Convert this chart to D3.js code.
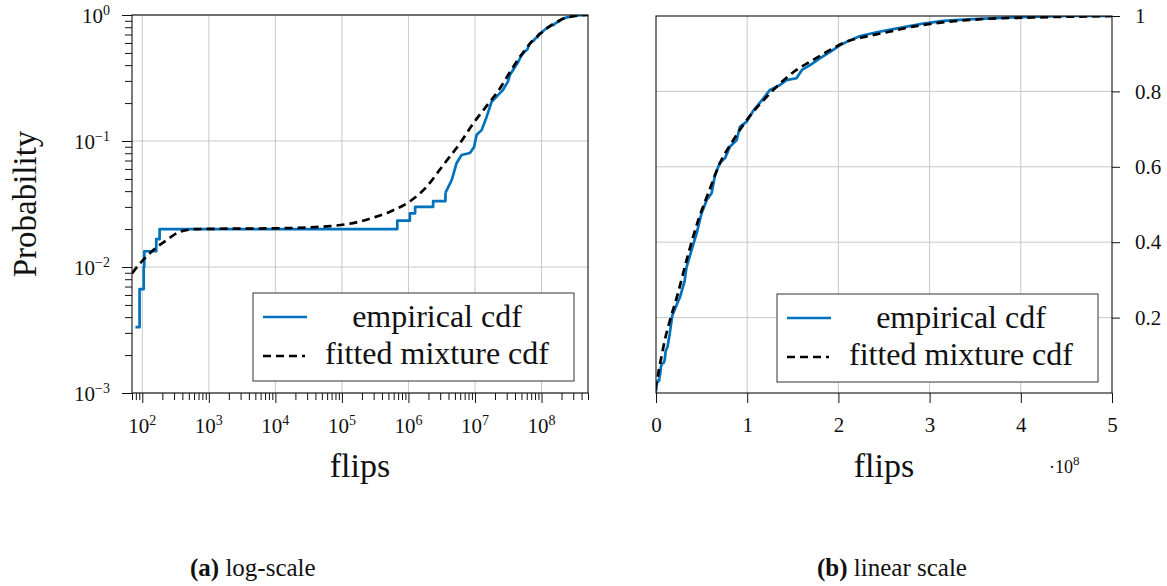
<!DOCTYPE html>
<html lang="en">
<head>
  <meta charset="UTF-8" />
  <title>Empirical vs fitted mixture cdf</title>
  <style>
    body { margin: 0; background: #fff; }
    svg text { font-family: "Liberation Serif", "DejaVu Serif", serif; fill: #111; }
    .grid line { stroke: #c8c8c8; stroke-width: 1px; }
    .frame { fill: none; stroke: #111; stroke-width: 1.1px; }
    .emp-line { fill: none; stroke: #0072bd; stroke-width: 2.7px; stroke-linejoin: round; }
    .fit-line { fill: none; stroke: #000; stroke-width: 2.7px; stroke-dasharray: 8, 5; }
    .axis path { display: none; }
    .axis line { stroke: #111; }
    .legend-box { fill: #fff; stroke: #333; stroke-width: 1px; }
  </style>
</head>
<body>
  <script src="https://cdnjs.cloudflare.com/ajax/libs/d3/7.8.5/d3.min.js"></script>
  <script>
    // empirical cdf (300 runs): knots, discrete steps first, then the dense part
    var empFlips = [79, 91, 105, 107, 162, 182, 6.8e5, 1.05e6, 1.26e6, 2.35e6,
      3.6e6, 4.47e6, 5.3e6, 6.3e6, 8.4e6, 9.7e6,
      1.06e7, 1.26e7, 1.5e7, 1.78e7, 2.37e7, 2.63e7, 3.13e7, 3.35e7, 3.9e7,
      4.46e7, 5.0e7, 5.56e7, 6.1e7, 6.47e7, 7.0e7, 7.57e7, 8.1e7, 8.85e7, 9.2e7, 9.95e7,
      1.07e8, 1.18e8, 1.25e8, 1.36e8, 1.43e8, 1.54e8, 1.6e8, 1.69e8, 1.8e8, 1.91e8,
      2.02e8, 2.13e8, 2.24e8, 2.42e8, 2.6e8, 2.78e8, 2.93e8,
      3.15e8, 3.41e8, 3.99e8, 4.5e8, 5e8];
    var empProb = [0.00333, 0.00667, 0.01, 0.01333, 0.01667, 0.02, 0.02333, 0.02667, 0.03, 0.03333,
      0.0387, 0.049, 0.0669, 0.0774, 0.0803, 0.0896,
      0.112, 0.122, 0.156, 0.205, 0.24, 0.254, 0.296, 0.334, 0.379,
      0.424, 0.477, 0.512, 0.53, 0.578, 0.61, 0.623, 0.653, 0.671, 0.706, 0.72,
      0.75, 0.782, 0.804, 0.817, 0.83, 0.835, 0.857, 0.87, 0.888, 0.905,
      0.923, 0.936, 0.947, 0.957, 0.965, 0.973, 0.98,
      0.987, 0.991, 0.997, 1.0, 1.0];
    var nSteps = 11; // first knots drawn as visible steps

    // fitted mixture cdf
    var fitFlips = [70, 100, 148, 234, 371, 660, 1.17e4, 6.6e4, 1.65e5, 3.3e5, 5.3e5,
      1.12e6, 1.88e6, 3.34e6, 5.96e6, 9.44e6, 1.5e7, 2.38e7, 3.36e7, 4.64e7, 5.73e7,
      7.0e7, 8.48e7, 9.95e7, 1.18e8, 1.36e8, 1.54e8, 1.72e8, 1.91e8, 2.09e8, 2.31e8,
      2.53e8, 2.82e8, 3.04e8, 3.59e8, 4.13e8, 5e8];
    var fitProb = [0.0089, 0.0112, 0.0137, 0.0164, 0.0191, 0.02, 0.0203, 0.0211, 0.0226, 0.0251, 0.0275,
      0.034, 0.0434, 0.0645, 0.096, 0.138, 0.19, 0.262, 0.353, 0.459, 0.53,
      0.609, 0.671, 0.724, 0.777, 0.821, 0.857, 0.883, 0.91, 0.932, 0.946,
      0.957, 0.972, 0.98, 0.992, 0.996, 1.0];

    var logXExp = [2, 3, 4, 5, 6, 7, 8];
    var logYExp = [-3, -2, -1, 0];
    var linXTicks = [0, 1, 2, 3, 4, 5];      // x 10^8
    var linYTicks = [0.2, 0.4, 0.6, 0.8, 1];
    var legendLabels = ["empirical cdf", "fitted mixture cdf"];
    var captions = [["(a)", " log-scale"], ["(b)", " linear scale"]];

    var empData = empFlips.map(function(f, i) { return [f, empProb[i]]; });
    var fitData = fitFlips.map(function(f, i) { return [f, fitProb[i]]; });
    var empStepPart = empData.slice(0, nSteps);
    var empDensePart = empData.slice(nSteps - 1);

    var w = 1167, h = 586;
    var svg = d3.select("body").append("svg").attr("width", w).attr("height", h);

    var left = { x0: 132, x1: 588, y0: 15, y1: 393 };
    var right = { x0: 656, x1: 1112, y0: 16, y1: 393 };

    var xL = d3.scaleLog().domain([70, 5e8]).range([left.x0, left.x1]);
    var yL = d3.scaleLog().domain([1e-3, 1]).range([left.y1, left.y0]);
    var xR = d3.scaleLinear().domain([0, 5e8]).range([right.x0, right.x1]);
    var yR = d3.scaleLinear().domain([0, 1]).range([right.y1, right.y0]);

    var minus = function(n) { return n < 0 ? "\u2212" + (-n) : "" + n; };

    // clip paths
    var defs = svg.append("defs");
    [["clipL", left], ["clipR", right]].forEach(function(c) {
      defs.append("clipPath").attr("id", c[0]).append("rect")
        .attr("x", c[1].x0).attr("y", c[1].y0)
        .attr("width", c[1].x1 - c[1].x0).attr("height", c[1].y1 - c[1].y0);
    });

    var mkLine = function(xs, ys, curve) {
      return d3.line().curve(curve)
        .x(function(d) { return xs(d[0]); }).y(function(d) { return ys(d[1]); });
    };

    // ---------- left panel (log-log) ----------
    var gridL = svg.append("g").attr("class", "grid");
    gridL.selectAll(".gx").data(logXExp).enter().append("line")
      .attr("x1", function(d) { return xL(Math.pow(10, d)); })
      .attr("x2", function(d) { return xL(Math.pow(10, d)); })
      .attr("y1", left.y0).attr("y2", left.y1);
    gridL.selectAll(".gy").data(logYExp).enter().append("line")
      .attr("x1", left.x0).attr("x2", left.x1)
      .attr("y1", function(d) { return yL(Math.pow(10, d)); })
      .attr("y2", function(d) { return yL(Math.pow(10, d)); });

    svg.append("path").datum(empStepPart).attr("class", "emp-line")
      .attr("clip-path", "url(#clipL)").attr("d", mkLine(xL, yL, d3.curveStepAfter));
    svg.append("path").datum(empDensePart).attr("class", "emp-line")
      .attr("clip-path", "url(#clipL)").attr("d", mkLine(xL, yL, d3.curveLinear));
    svg.append("path").datum(fitData).attr("class", "fit-line")
      .attr("clip-path", "url(#clipL)").attr("d", mkLine(xL, yL, d3.curveMonotoneX));

    // ---------- right panel (linear) ----------
    var gridR = svg.append("g").attr("class", "grid");
    gridR.selectAll(".gx").data(linXTicks.slice(1, 5)).enter().append("line")
      .attr("x1", function(d) { return xR(d * 1e8); })
      .attr("x2", function(d) { return xR(d * 1e8); })
      .attr("y1", right.y0).attr("y2", right.y1);
    gridR.selectAll(".gy").data(linYTicks.slice(0, 4)).enter().append("line")
      .attr("x1", right.x0).attr("x2", right.x1)
      .attr("y1", function(d) { return yR(d); })
      .attr("y2", function(d) { return yR(d); });

    svg.append("path").datum([[0, 0]].concat(empStepPart)).attr("class", "emp-line")
      .attr("clip-path", "url(#clipR)").attr("d", mkLine(xR, yR, d3.curveStepAfter));
    svg.append("path").datum(empDensePart).attr("class", "emp-line")
      .attr("clip-path", "url(#clipR)").attr("d", mkLine(xR, yR, d3.curveLinear));
    svg.append("path").datum(fitData).attr("class", "fit-line")
      .attr("clip-path", "url(#clipR)").attr("d", mkLine(xR, yR, d3.curveMonotoneX));

    // ---------- legends ----------
    function legend(bx, by) {
      var g = svg.append("g").attr("transform", "translate(" + bx + "," + by + ")");
      g.append("rect").attr("class", "legend-box").attr("width", 321).attr("height", 88);
      g.append("line").attr("class", "emp-line").attr("x1", 10).attr("x2", 54).attr("y1", 24).attr("y2", 24);
      g.append("line").attr("class", "fit-line").attr("x1", 10).attr("x2", 52).attr("y1", 63).attr("y2", 63);
      g.selectAll("text").data(legendLabels).enter().append("text")
        .attr("x", 184).attr("y", function(d, i) { return i ? 71 : 34; })
        .attr("text-anchor", "middle").attr("font-size", 32)
        .text(function(d) { return d; });
    }
    legend(253, 293);
    legend(777, 294);

    // ---------- frames ----------
    [left, right].forEach(function(p) {
      svg.append("rect").attr("class", "frame")
        .attr("x", p.x0).attr("y", p.y0).attr("width", p.x1 - p.x0).attr("height", p.y1 - p.y0);
    });

    // ---------- axes: left ----------
    var minorX = xL.ticks().filter(function(d) { return Math.abs(Math.log10(d) % 1) > 1e-6; });
    var minorY = yL.ticks().filter(function(d) { return Math.abs(Math.log10(d) % 1) > 1e-6; });

    svg.append("g").attr("class", "axis").attr("transform", "translate(0," + left.y1 + ")")
      .call(d3.axisBottom(xL).tickValues(minorX).tickSize(7).tickFormat(""));
    svg.append("g").attr("class", "axis").attr("transform", "translate(0," + left.y1 + ")")
      .call(d3.axisBottom(xL).tickValues(logXExp.map(function(e) { return Math.pow(10, e); })).tickSize(10).tickFormat(""));
    svg.append("g").attr("class", "axis").attr("transform", "translate(" + left.x0 + ",0)")
      .call(d3.axisLeft(yL).tickValues(minorY).tickSize(7).tickFormat(""));
    svg.append("g").attr("class", "axis").attr("transform", "translate(" + left.x0 + ",0)")
      .call(d3.axisLeft(yL).tickValues(logYExp.map(function(e) { return Math.pow(10, e); })).tickSize(10).tickFormat(""));

    var xLab = svg.selectAll(".xl").data(logXExp).enter().append("text")
      .attr("x", function(d) { return xL(Math.pow(10, d)); })
      .attr("y", 433).attr("text-anchor", "middle").attr("font-size", 21);
    xLab.append("tspan").text("10");
    xLab.append("tspan").attr("dy", -8).attr("font-size", 14).text(function(d) { return minus(d); });

    var yLab = svg.selectAll(".yl").data(logYExp).enter().append("text")
      .attr("x", 110)
      .attr("y", function(d) { return yL(Math.pow(10, d)) + 8; })
      .attr("text-anchor", "end").attr("font-size", 21);
    yLab.append("tspan").text("10");
    yLab.append("tspan").attr("dy", -8).attr("font-size", 14).text(function(d) { return minus(d); });

    // ---------- axes: right ----------
    var axR = svg.append("g").attr("class", "axis").attr("transform", "translate(0," + right.y1 + ")")
      .call(d3.axisBottom(xR).tickValues(linXTicks.map(function(d) { return d * 1e8; }))
        .tickSize(10).tickPadding(14).tickFormat(function(d) { return d / 1e8; }));
    axR.attr("font-size", 21);
    var ayR = svg.append("g").attr("class", "axis").attr("transform", "translate(" + right.x1 + ",0)")
      .call(d3.axisRight(yR).tickValues(linYTicks).tickSize(8).tickPadding(15)
        .tickFormat(function(d) { return d; }));
    ayR.attr("font-size", 21);

    var mult = svg.append("text").attr("x", 1049).attr("y", 473).attr("font-size", 18);
    mult.append("tspan").text("\u00b710");
    mult.append("tspan").attr("dy", -8).attr("font-size", 13).text("8");

    // ---------- axis titles ----------
    svg.append("text").attr("transform", "translate(36," + ((left.y0 + left.y1) / 2) + ") rotate(-90)")
      .attr("text-anchor", "middle").attr("font-size", 33).text("Probability");
    svg.append("text").attr("x", (left.x0 + left.x1) / 2).attr("y", 477)
      .attr("text-anchor", "middle").attr("font-size", 34).text("flips");
    svg.append("text").attr("x", (right.x0 + right.x1) / 2).attr("y", 477)
      .attr("text-anchor", "middle").attr("font-size", 34).text("flips");

    // ---------- captions ----------
    [190, 817].forEach(function(cx, i) {
      var t = svg.append("text").attr("x", cx).attr("y", 576).attr("font-size", 25);
      t.append("tspan").attr("font-weight", "bold").text(captions[i][0]);
      t.append("tspan").text(captions[i][1]);
    });
  </script>
</body>
</html>
